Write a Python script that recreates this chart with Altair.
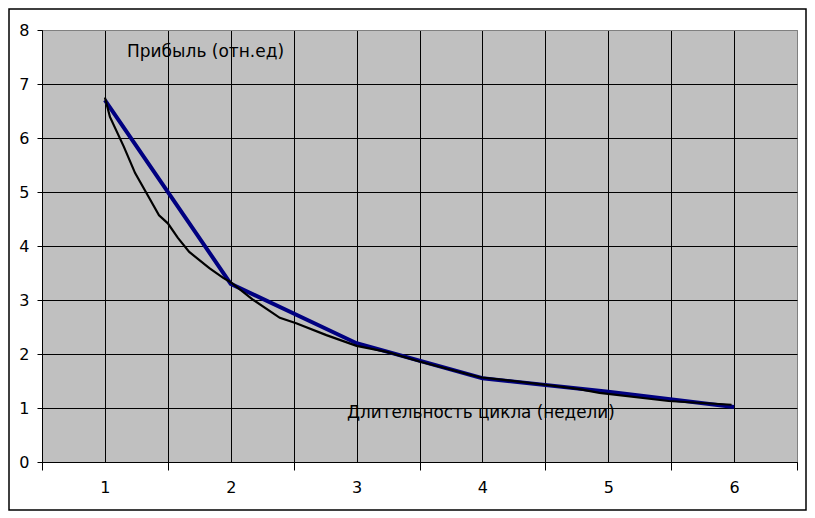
import altair as alt
import pandas as pd

# Main series (blue): profit vs cycle duration
weeks = [1, 2, 3, 4, 5, 6]
profit = [6.7, 3.3, 2.2, 1.55, 1.3, 1.02]

# Smooth reference curve (black)
curve_x = [1.0, 1.04, 1.15, 1.24, 1.34, 1.43, 1.5, 1.58, 1.67, 1.83, 1.94, 2.0,
           2.18, 2.39, 2.52, 2.76, 3.0, 3.24, 3.5, 3.98, 4.5, 4.77, 4.93, 5.48, 5.98]
curve_y = [6.75, 6.39, 5.84, 5.35, 4.94, 4.57, 4.42, 4.15, 3.89, 3.59, 3.41, 3.33,
           3.0, 2.67, 2.57, 2.35, 2.15, 2.04, 1.86, 1.57, 1.43, 1.35, 1.28, 1.13, 1.06]

title_y = "Прибыль (отн.ед)"
title_x = "Длительность цикла (недели)"

x_ticks = [0.5 * i for i in range(1, 14)]
y_ticks = list(range(0, 9))

df_main = pd.DataFrame({"x": weeks, "y": profit})
df_curve = pd.DataFrame({"x": curve_x, "y": curve_y})

FONT = "DejaVu Sans"

x_scale = alt.Scale(domain=[0.5, 6.5], nice=False, zero=False)
y_scale = alt.Scale(domain=[0, 8], nice=False)

x_axis = alt.Axis(
    values=x_ticks,
    title=None,
    grid=True,
    gridColor={"condition": {"test": "datum.value == 6.5", "value": "#808080"}, "value": "black"},
    gridWidth=1,
    gridOpacity=1,
    domainColor="black",
    tickColor={"condition": {"test": "datum.value % 1 == 0", "value": "transparent"}, "value": "black"},
    tickSize=8,
    labelExpr="datum.value % 1 == 0 ? format(datum.value, 'd') : ''",
    labelFont=FONT,
    labelFontSize=16,
    labelColor="black",
    labelPadding=9,
    labelFlush=False,
)
y_axis = alt.Axis(
    values=y_ticks,
    title=None,
    grid=True,
    gridColor={"condition": {"test": "datum.value == 8", "value": "#808080"}, "value": "black"},
    gridWidth=1,
    gridOpacity=1,
    domainColor="black",
    tickColor="black",
    tickSize=5,
    format="d",
    labelFont=FONT,
    labelFontSize=16,
    labelColor="black",
    labelPadding=8,
    labelFlush=False,
)

curve = alt.Chart(df_curve).mark_line(color="black", strokeWidth=2.2).encode(
    x=alt.X("x:Q", scale=x_scale, axis=x_axis),
    y=alt.Y("y:Q", scale=y_scale, axis=y_axis),
)

main = alt.Chart(df_main).mark_line(color="#000080", strokeWidth=4).encode(
    x=alt.X("x:Q", scale=x_scale),
    y=alt.Y("y:Q", scale=y_scale),
)

txt_df = pd.DataFrame({"t": [title_y]})
txt_df2 = pd.DataFrame({"t": [title_x]})

t1 = alt.Chart(txt_df).mark_text(
    align="left", baseline="middle", font=FONT, fontSize=17, color="black"
).encode(x=alt.value(85), y=alt.value(22), text="t:N")

t2 = alt.Chart(txt_df2).mark_text(
    align="left", baseline="middle", font=FONT, fontSize=16.8, color="black"
).encode(x=alt.value(305), y=alt.value(383), text="t:N")

border = alt.Chart(pd.DataFrame({"t": [0]})).mark_rect(
    filled=False, stroke="black", strokeWidth=1.5, clip=False
).encode(x=alt.value(-33), x2=alt.value(764), y=alt.value(-21), y2=alt.value(480))

chart = alt.layer(main, curve, t1, t2, border).properties(
    width=755,
    height=432,
    autosize=alt.AutoSizeParams(type="none"),
    padding={"left": 34, "top": 22, "right": 10, "bottom": 56},
    background="white",
).configure_view(
    fill="#C0C0C0", stroke="#808080", strokeWidth=1
)

chart.save("out.html", embed_options={"renderer": "svg", "actions": False})
